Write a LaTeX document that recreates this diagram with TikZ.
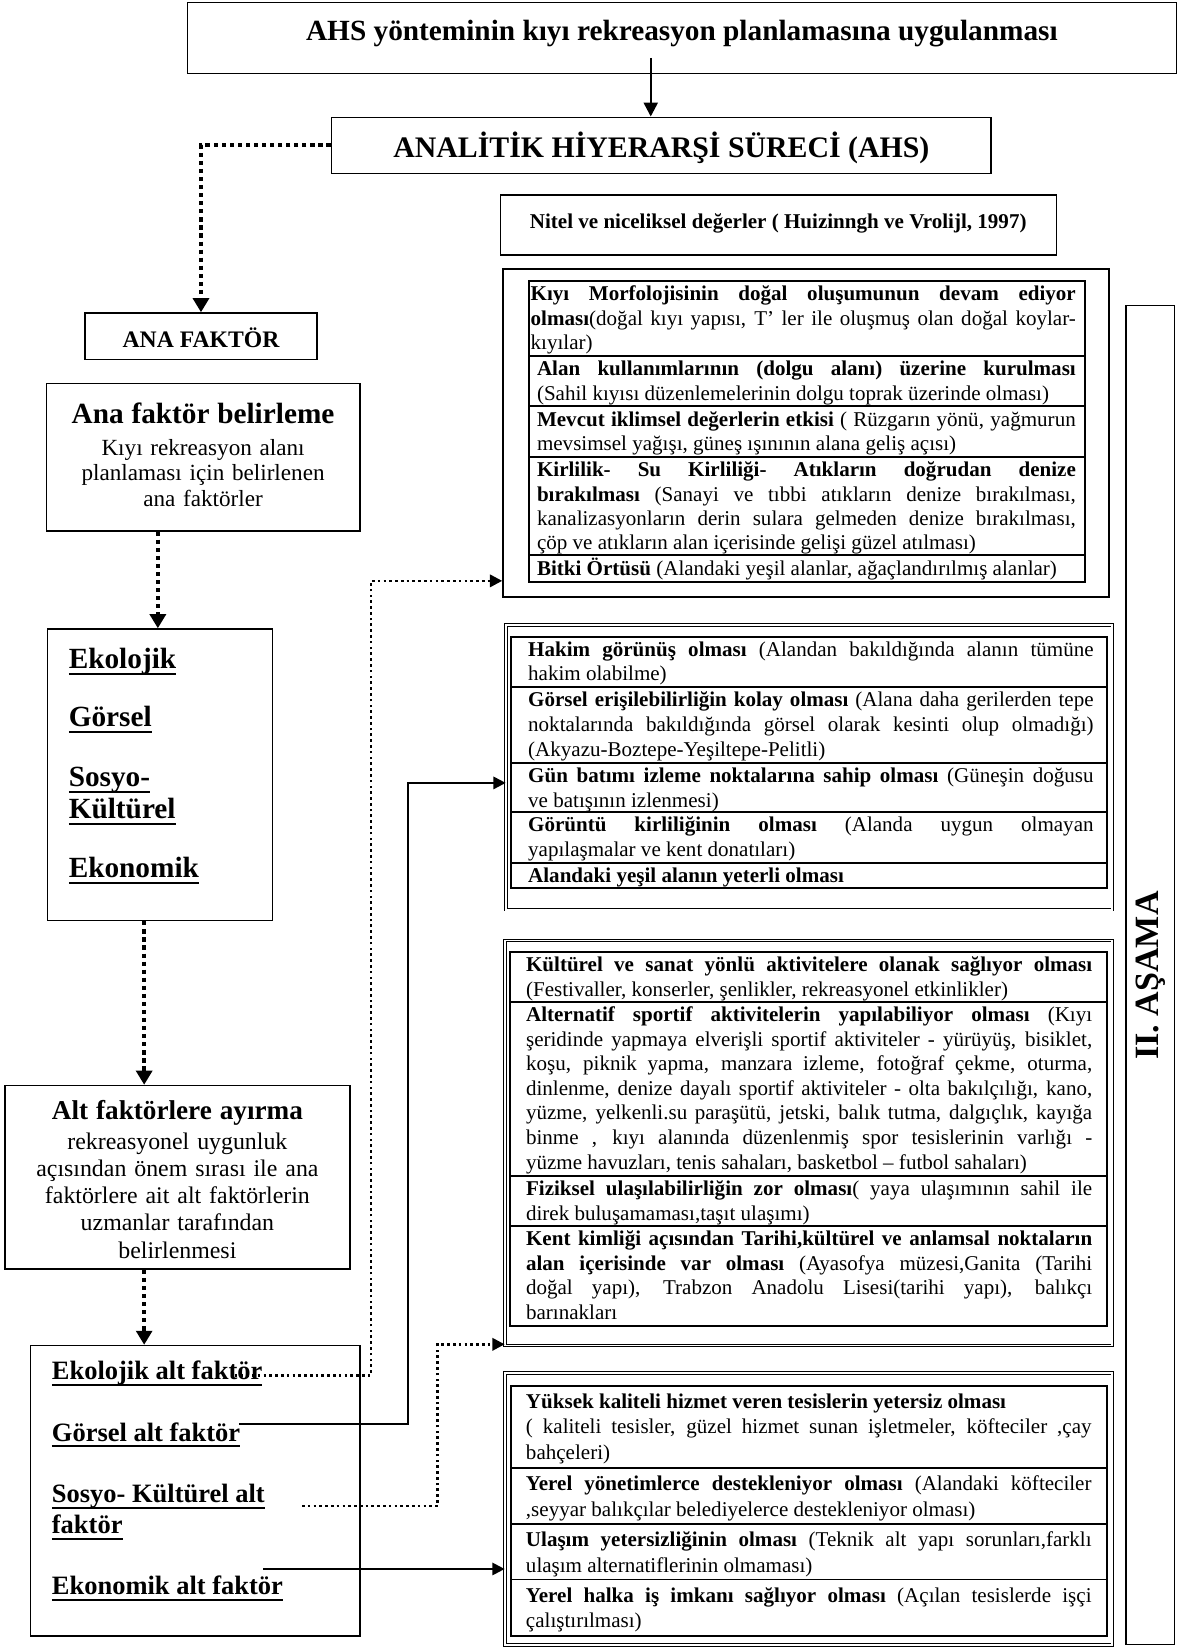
\documentclass[tikz,border=0pt]{standalone}
\usepackage{fontspec}
\setmainfont{Liberation Serif}
\usetikzlibrary{arrows.meta,fit,calc}
\tolerance=10000
\hyphenpenalty=10000
\exhyphenpenalty=10000
\newsavebox\ulbox
\newcommand\myul[1]{\leavevmode\sbox\ulbox{#1}\rlap{\rule[-0.23em]{\wd\ulbox}{0.075em}}\usebox\ulbox}
\tikzset{
  box/.style={draw, line width=0.9pt, inner sep=0pt},
  dbox/.style={draw, double, double distance=1pt, line width=0.5pt, inner sep=0pt},
  tbl/.style={draw, line width=1.1pt, inner sep=0pt},
  rowtext/.style={anchor=north west, inner sep=0pt, align=justify},
  g1/.style={rowtext, font=\fontsize{12}{13.8}\selectfont, text width=307.2pt},
  g2/.style={rowtext, font=\fontsize{12}{14.25}\selectfont, text width=322.4pt},
  g3/.style={rowtext, font=\fontsize{12}{14}\selectfont, text width=322.8pt},
  g4/.style={rowtext, font=\fontsize{12}{14.6}\selectfont, text width=322.5pt},
  mainitem/.style={anchor=base west, inner sep=0pt, font=\fontsize{16.7}{18}\selectfont\bfseries},
  altitem/.style={anchor=base west, inner sep=0pt, font=\fontsize{15.1}{17}\selectfont\bfseries},
  conn/.style={line width=1.2pt, -{Triangle[length=7pt,width=7pt]}},
  thindot/.style={line width=1.5pt, dash pattern=on 1.5pt off 1.8pt, -{Triangle[length=7pt,width=7pt]}},
  thickdot/.style={line width=2.3pt, dash pattern=on 2.4pt off 2.2pt, -{Triangle[length=8pt,width=9pt]}},
}
\begin{document}
\begin{tikzpicture}[x=0.6pt,y=-0.6pt]
\useasboundingbox (0,0) rectangle (1121,1568);

% ---------- top ----------
\node[box, fit={(178,2.5) (1118,69.7)}] (topbox) {};
\node[anchor=base, font=\fontsize{16.7}{20}\selectfont\bfseries] (toptext) at (648,38.3) {AHS yönteminin kıyı rekreasyon planlamasına uygulanması};
\node[box, fit={(315,111.5) (941.7,164.7)}] (ahs) {};
\node[anchor=base, font=\fontsize{17}{20}\selectfont\bfseries] (ahstext) at (628.5,149.3) {ANALİTİK HİYERARŞİ SÜRECİ (AHS)};
\node[box, fit={(475.6,185.3) (1003.8,242.3)}] (nitel) {};
\node[anchor=base, font=\fontsize{12}{14}\selectfont\bfseries] (niteltext) at (739.5,217) {Nitel ve niceliksel değerler ( Huizinngh ve Vrolijl, 1997)};

% ---------- right stage box ----------
\node[box, line width=0.6pt, fit={(1070,290) (1116,1563)}] (asama) {};
\node[rotate=90, font=\fontsize{19.4}{22}\selectfont\bfseries] (asamatext) at (1094,927) {II. AŞAMA};

% ---------- left column ----------
\node[box, fit={(81,297.5) (301,341.6)}] (anaf) {};
\node[anchor=base, font=\fontsize{13.5}{16}\selectfont\bfseries] (anaftext) at (191,330) {ANA FAKTÖR};

\node[box, fit={(44,364.5) (342,504.5)}] (anab) {};
\node[anchor=north, inner sep=0pt, text width=178.8pt, align=center, font=\fontsize{13.2}{14.4}\selectfont] (anabtext) at (193,364.5)
  {\rule{0pt}{22.5pt}{\fontsize{16.7}{18}\selectfont\bfseries Ana faktör belirleme}\\[4pt]
   Kıyı rekreasyon alanı\\ planlaması için belirlenen\\ ana faktörler};

\node[box, fit={(45,597.8) (259,874.7)}] (ekob) {};
\node[mainitem] (m1) at (65,635) {\myul{Ekolojik}};
\node[mainitem] (m2) at (65,690) {\myul{Görsel}};
\node[mainitem] (m3) at (65,747) {\myul{Sosyo-}};
\node[mainitem] (m3b) at (65,778) {\myul{Kültürel}};
\node[mainitem] (m4) at (65,834) {\myul{Ekonomik}};

\node[box, fit={(4.75,1031.6) (332.5,1206)}] (altb) {};
\node[anchor=north, inner sep=0pt, text width=196.6pt, align=center, font=\fontsize{13.6}{15.5}\selectfont] (altbtext) at (168.6,1031.6)
  {\rule{0pt}{19.4pt}{\fontsize{15.5}{17}\selectfont\bfseries Alt faktörlere ayırma}\\[1.3pt]
   rekreasyonel uygunluk\\ açısından önem sırası ile ana\\ faktörlere ait alt faktörlerin\\ uzmanlar tarafından\\ belirlenmesi};

\node[box, fit={(29,1278.7) (342,1554.8)}] (altf) {};
\node[altitem] (s1t) at (49,1311) {\myul{Ekolojik alt faktör}};
\node[altitem] (s2t) at (49,1369.6) {\myul{Görsel alt faktör}};
\node[altitem] (s3t) at (49,1428.2) {\myul{Sosyo- Kültürel alt}};
\node[altitem] (s3bt) at (49,1457.4) {\myul{faktör}};
\node[altitem] (s4t) at (49,1515.3) {\myul{Ekonomik alt faktör}};

% ---------- group 1 ----------
\node[box, fit={(478,255.9) (1054,567.5)}] (b1o) {};
\node[tbl, fit={(502.4,266.7) (1030.8,337.9)}] (r11) {};
\node[tbl, fit={(502.4,337.9) (1030.8,385.7)}] (r12) {};
\node[tbl, fit={(502.4,385.7) (1030.8,433.9)}] (r13) {};
\node[tbl, fit={(502.4,433.9) (1030.8,527.3)}] (r14) {};
\node[tbl, fit={(502.4,527.3) (1030.8,553.2)}] (r15) {};
\node[g1, text width=310.8pt] (t11) at (504,266.7) {\rule{0pt}{11.4pt}\textbf{Kıyı Morfolojisinin doğal oluşumunun devam ediyor}\linebreak\textbf{olması}(doğal kıyı yapısı, T' ler ile oluşmuş olan doğal koylar-\linebreak kıyılar)};
\node[g1] (t12) at (510,337.9) {\rule{0pt}{11.4pt}\textbf{Alan kullanımlarının (dolgu alanı) üzerine kurulması}\linebreak (Sahil kıyısı düzenlemelerinin dolgu toprak üzerinde olması)};
\node[g1] (t13) at (510,385.7) {\rule{0pt}{11.4pt}\textbf{Mevcut iklimsel değerlerin etkisi} ( Rüzgarın yönü, yağmurun\linebreak mevsimsel yağışı, güneş ışınının alana geliş açısı)};
\node[g1] (t14) at (510,433.9) {\rule{0pt}{11.4pt}\textbf{Kirlilik- Su Kirliliği- Atıkların doğrudan denize}\linebreak\textbf{bırakılması} (Sanayi ve tıbbi atıkların denize bırakılması,\linebreak kanalizasyonların derin sulara gelmeden denize bırakılması,\linebreak çöp ve atıkların alan içerisinde gelişi güzel atılması)};
\node[g1] (t15) at (510,527.3) {\rule{0pt}{11.4pt}\textbf{Bitki Örtüsü} (Alandaki yeşil alanlar, ağaçlandırılmış alanlar)};

% ---------- group 2 ----------
\node[dbox, fit={(481,593.8) (1057,864.5)}] (b2o) {};
\node[tbl, fit={(486,604.9) (1051.8,653)}] (r21) {};
\node[tbl, fit={(486,653) (1051.8,725.2)}] (r22) {};
\node[tbl, fit={(486,725.2) (1051.8,771.7)}] (r23) {};
\node[tbl, fit={(486,771.7) (1051.8,820.2)}] (r24) {};
\node[tbl, fit={(486,820.2) (1051.8,843.9)}] (r25) {};
\node[g2] (t21) at (501.6,604.9) {\rule{0pt}{10.9pt}\textbf{Hakim görünüş olması} (Alandan bakıldığında alanın tümüne\linebreak hakim olabilme)};
\node[g2] (t22) at (501.6,653) {\rule{0pt}{10.9pt}\textbf{Görsel erişilebilirliğin kolay olması} (Alana daha gerilerden tepe\linebreak noktalarında bakıldığında görsel olarak kesinti olup olmadığı)\linebreak (Akyazu-Boztepe-Yeşiltepe-Pelitli)};
\node[g2] (t23) at (501.6,725.2) {\rule{0pt}{10.9pt}\textbf{Gün batımı izleme noktalarına sahip olması} (Güneşin doğusu\linebreak ve batışının izlenmesi)};
\node[g2] (t24) at (501.6,771.7) {\rule{0pt}{10.9pt}\textbf{Görüntü kirliliğinin olması} (Alanda uygun olmayan\linebreak yapılaşmalar ve kent donatıları)};
\node[g2] (t25) at (501.6,820.2) {\rule{0pt}{10.9pt}\textbf{Alandaki yeşil alanın yeterli olması}};

% ---------- group 3 ----------
\node[dbox, fit={(480,893.7) (1057,1278.7)}] (b3o) {};
\node[tbl, fit={(485,905) (1052,952.6)}] (r31) {};
\node[tbl, fit={(485,952.6) (1052,1117.9)}] (r32) {};
\node[tbl, fit={(485,1117.9) (1052,1165.4)}] (r33) {};
\node[tbl, fit={(485,1165.4) (1052,1259.7)}] (r34) {};
\node[g3] (t31) at (499.6,905) {\rule{0pt}{10.8pt}\textbf{Kültürel ve sanat yönlü aktivitelere olanak sağlıyor olması}\linebreak (Festivaller, konserler, şenlikler, rekreasyonel etkinlikler)};
\node[g3] (t32) at (499.6,952.6) {\rule{0pt}{10.8pt}\textbf{Alternatif sportif aktivitelerin yapılabiliyor olması} (Kıyı\linebreak şeridinde yapmaya elverişli sportif aktiviteler - yürüyüş, bisiklet,\linebreak koşu, piknik yapma, manzara izleme, fotoğraf çekme, oturma,\linebreak dinlenme, denize dayalı sportif aktiviteler - olta bakılçılığı, kano,\linebreak yüzme, yelkenli.su paraşütü, jetski, balık tutma, dalgıçlık, kayığa\linebreak binme , kıyı alanında düzenlenmiş spor tesislerinin varlığı -\linebreak yüzme havuzları, tenis sahaları, basketbol – futbol sahaları)};
\node[g3] (t33) at (499.6,1117.9) {\rule{0pt}{10.8pt}\textbf{Fiziksel ulaşılabilirliğin zor olması}( yaya ulaşımının sahil ile\linebreak direk buluşamaması,taşıt ulaşımı)};
\node[g3] (t34) at (499.6,1165.4) {\rule{0pt}{10.8pt}\textbf{Kent kimliği açısından Tarihi,kültürel ve anlamsal noktaların}\linebreak\textbf{alan içerisinde var olması} (Ayasofya müzesi,Ganita (Tarihi\linebreak doğal yapı), Trabzon Anadolu Lisesi(tarihi yapı), balıkçı\linebreak barınakları};

% ---------- group 4 ----------
\node[dbox, fit={(480,1304.7) (1057,1563)}] (b4o) {};
\node[tbl, fit={(485.4,1316.7) (1052,1394.9)}] (r41) {};
\node[tbl, fit={(485.4,1394.9) (1052,1448.1)}] (r42) {};
\node[tbl, fit={(485.4,1448.1) (1052,1501)}] (r43) {};
\node[tbl, fit={(485.4,1501) (1052,1554.9)}] (r44) {};
\node[g4] (t41) at (499.5,1316.7) {\rule{0pt}{12.7pt}\textbf{Yüksek kaliteli hizmet veren tesislerin yetersiz olması}\newline ( kaliteli tesisler, güzel hizmet sunan işletmeler, köfteciler ,çay\linebreak bahçeleri)};
\node[g4] (t42) at (499.5,1394.9) {\rule{0pt}{12.7pt}\textbf{Yerel yönetimlerce destekleniyor olması} (Alandaki köfteciler\linebreak ,seyyar balıkçılar belediyelerce destekleniyor olması)};
\node[g4] (t43) at (499.5,1448.1) {\rule{0pt}{12.7pt}\textbf{Ulaşım yetersizliğinin olması} (Teknik alt yapı sorunları,farklı\linebreak ulaşım alternatiflerinin olmaması)};
\node[g4] (t44) at (499.5,1501) {\rule{0pt}{12.7pt}\textbf{Yerel halka iş imkanı sağlıyor olması} (Açılan tesislerde işçi\linebreak çalıştırılması)};

% ---------- connectors ----------
\coordinate (a0) at (618.4,55);
\draw[conn, line width=1.4pt, -{Triangle[length=8pt,width=8pt]}] (a0) -- (a0 |- ahs.north);
\draw[thickdot] (ahs.west) -| (anaf.north);
\draw[thickdot] ([xshift=-1.2pt]ekob.north |- anab.south) -- ([xshift=-1.2pt]ekob.north);
\coordinate (colx) at (137,0);
\draw[thickdot] (colx |- ekob.south) -- (colx |- altb.north);
\draw[thickdot] (colx |- altb.south) -- (colx |- altf.north);

\coordinate (s1) at (223,1307);
\coordinate (v1) at (352.5,552);
\draw[thindot] (s1) -| (v1) -- (v1 -| b1o.west);

\coordinate (s2) at (227,1353);
\coordinate (v2) at (388,744);
\draw[conn] (s2) -| (v2) -- (v2 -| b2o.west);

\coordinate (s3) at (287,1431);
\coordinate (v3) at (416,1277.5);
\draw[thindot] (s3) -| (v3) -- (v3 -| b3o.west);

\coordinate (s4) at (250,1491);
\draw[conn] (s4) -- (s4 -| b4o.west);
\end{tikzpicture}
\end{document}
